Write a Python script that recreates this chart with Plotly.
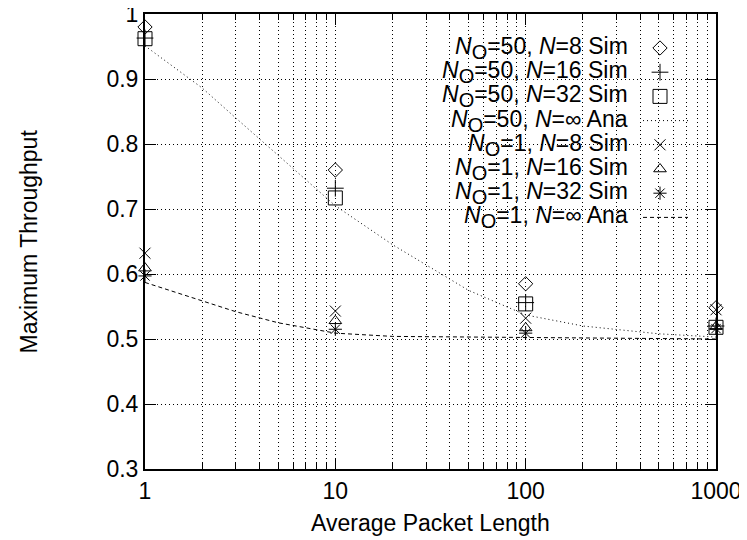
import plotly.graph_objects as go

# ---------------- data ----------------
x_sim = [1, 10, 100, 1000]
no50_n8 = [0.980, 0.760, 0.585, 0.548]
no50_n16 = [0.963, 0.732, 0.556, 0.520]
no50_n32 = [0.962, 0.717, 0.554, 0.518]
no1_n8 = [0.632, 0.543, 0.532, 0.545]
no1_n16 = [0.609, 0.528, 0.517, 0.519]
no1_n32 = [0.597, 0.515, 0.509, 0.516]

x_ana50 = [1, 2, 3, 5, 10, 20, 30, 50, 100, 200, 500, 1000]
ana50 = [0.951, 0.886, 0.840, 0.783, 0.705, 0.645, 0.614, 0.575, 0.537, 0.520, 0.508, 0.503]
x_ana1 = [1, 2, 3, 5, 10, 20, 100, 1000]
ana1 = [0.587, 0.558, 0.542, 0.525, 0.509, 0.504, 0.502, 0.500]

SUB_O = "<sub><span style='font-size:20px'>O</span></sub>"
legend_labels = [
    f"<i>N</i>{SUB_O}=50, <i>N</i>=8 Sim",
    f"<i>N</i>{SUB_O}=50, <i>N</i>=16 Sim",
    f"<i>N</i>{SUB_O}=50, <i>N</i>=32 Sim",
    f"<i>N</i>{SUB_O}=50, <i>N</i>=∞ Ana",
    f"<i>N</i>{SUB_O}=1, <i>N</i>=8 Sim",
    f"<i>N</i>{SUB_O}=1, <i>N</i>=16 Sim",
    f"<i>N</i>{SUB_O}=1, <i>N</i>=32 Sim",
    f"<i>N</i>{SUB_O}=1, <i>N</i>=∞ Ana",
]
x_ticks = [1, 10, 100, 1000]
x_ticklabels = ["1", "10", "100", "1000"]
y_ticks = [0.3, 0.4, 0.5, 0.6, 0.7, 0.8, 0.9, 1.0]
y_ticklabels = ["0.3", "0.4", "0.5", "0.6", "0.7", "0.8", "0.9", "1"]

# ---------------- layout constants ----------------
# the html page has an 8px body margin; compensate so the plot lands
# where it is in the 747x540 reference
OFF = 8
W, H = 747 - OFF, 540 - OFF
PL, PR, PT, PB = 145, 716, 14, 469          # plot area in window pixels
L, R, T, B = PL - OFF, (W + OFF) - PR, PT - OFF, (H + OFF) - PB
FONT = "Liberation Sans, Arial, Helvetica, sans-serif"
FS = 23
K = "black"

sim_series = [
    (no50_n8, "diamond-open", 11),
    (no50_n16, "cross-thin-open", 12),
    (no50_n32, "square-open", 14),
    (no1_n8, "x-thin-open", 11),
    (no1_n16, "triangle-up-open", 11),
    (no1_n32, "asterisk-open", 11),
]

fig = go.Figure()

# analytical curves
fig.add_trace(go.Scatter(x=x_ana50, y=ana50, mode="lines",
                         line=dict(color=K, width=1, dash="1px,3px"),
                         showlegend=False, hoverinfo="skip"))
fig.add_trace(go.Scatter(x=x_ana1, y=ana1, mode="lines",
                         line=dict(color=K, width=1, dash="4px,3px"),
                         showlegend=False, hoverinfo="skip"))

for ys, sym, sz in sim_series:
    fig.add_trace(go.Scatter(x=x_sim, y=ys, mode="markers",
                             marker=dict(symbol=sym, size=sz, color=K,
                                         line=dict(color=K, width=1)),
                             showlegend=False, cliponaxis=False))

# ---------------- custom gnuplot-style key ----------------
def px_to_paper_x(px):
    return (px - PL) / (PR - PL)
def py_to_paper_y(py):
    return (PB - py) / (PB - PT)

key_text_right = 630
key_sym_x = 660
key_line = (643, 688)
key_y0, key_dy = 48, 24.2

annotations = []
order = ["s0", "s1", "s2", "a50", "s3", "s4", "s5", "a1"]
for i, (lab, kind) in enumerate(zip(legend_labels, order)):
    yc = key_y0 + i * key_dy
    annotations.append(dict(text=lab, xref="paper", yref="paper",
                            x=px_to_paper_x(key_text_right), y=py_to_paper_y(yc),
                            xanchor="right", yanchor="middle", showarrow=False,
                            font=dict(family=FONT, size=FS, color=K)))
    if kind.startswith("s"):
        ys, sym, sz = sim_series[int(kind[1])]
        fig.add_trace(go.Scatter(x=[px_to_paper_x(key_sym_x)], y=[py_to_paper_y(yc)],
                                 xaxis="x2", yaxis="y2", mode="markers",
                                 marker=dict(symbol=sym, size=sz, color=K,
                                             line=dict(color=K, width=1)),
                                 showlegend=False, hoverinfo="skip"))
    else:
        dash = "1px,3px" if kind == "a50" else "4px,3px"
        fig.add_shape(type="line", xref="paper", yref="paper",
                      x0=px_to_paper_x(key_line[0]), x1=px_to_paper_x(key_line[1]),
                      y0=py_to_paper_y(yc), y1=py_to_paper_y(yc),
                      line=dict(color=K, width=1, dash=dash))

# axis titles
annotations.append(dict(text="Maximum Throughput", xref="paper", yref="paper",
                        x=0, y=0.5, xshift=28 - PL, textangle=-90,
                        xanchor="center", yanchor="middle", showarrow=False,
                        font=dict(family=FONT, size=FS, color=K)))
annotations.append(dict(text="Average Packet Length", xref="paper", yref="paper",
                        x=0.5, y=0, yshift=-(523 - PB),
                        xanchor="center", yanchor="middle", showarrow=False,
                        font=dict(family=FONT, size=FS, color=K)))

grid_dash = "1px,3px"
fig.update_layout(
    width=W, height=H,
    margin=dict(l=L, r=R, t=T, b=B, pad=0),
    paper_bgcolor="white", plot_bgcolor="white",
    font=dict(family=FONT, size=FS, color=K),
    showlegend=False,
    annotations=annotations,
    xaxis=dict(type="log", range=[0, 3], automargin=False,
               tickvals=x_ticks, ticktext=x_ticklabels, ticklabeloverflow="allow",
               ticks="inside", ticklen=11, tickwidth=1, tickcolor=K,
               showline=True, linecolor=K, linewidth=2, mirror="allticks",
               showgrid=True, gridcolor=K, gridwidth=1, griddash=grid_dash,
               zeroline=False,
               minor=dict(dtick="D1", ticks="inside", ticklen=6, tickcolor=K,
                          showgrid=True, gridcolor=K, gridwidth=1, griddash=grid_dash),
               tickfont=dict(family=FONT, size=FS, color=K)),
    yaxis=dict(range=[0.3, 1.0], automargin=False,
               tickvals=y_ticks, ticktext=y_ticklabels, ticklabeloverflow="allow",
               ticks="inside", ticklen=11, tickwidth=1, tickcolor=K,
               showline=True, linecolor=K, linewidth=2, mirror="allticks",
               showgrid=True, gridcolor=K, gridwidth=1, griddash=grid_dash,
               zeroline=False,
               tickfont=dict(family=FONT, size=FS, color=K)),
    xaxis2=dict(overlaying="x", range=[0, 1], visible=False, fixedrange=True),
    yaxis2=dict(overlaying="y", range=[0, 1], visible=False, fixedrange=True),
)

fig.write_html("out.html")
